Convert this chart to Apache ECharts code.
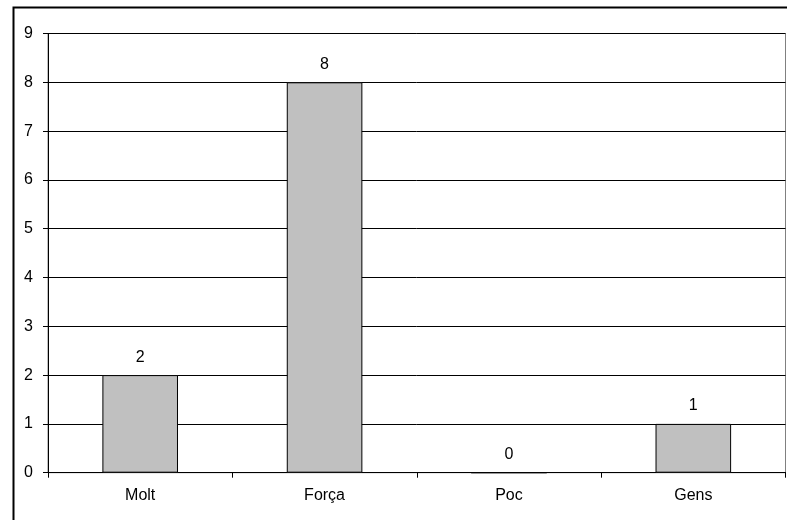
<!DOCTYPE html>
<html><head><meta charset="utf-8">
<script src="https://cdn.jsdelivr.net/npm/echarts@6/dist/echarts.min.js"></script>
<style>html,body{margin:0;padding:0;background:#fff}#c{width:787px;height:520px}</style>
</head><body><div id="c"></div>
<script>
const categories = ['Molt', 'Força', 'Poc', 'Gens'];
const values = [2, 8, 0, 1];
const yTicks = [0, 1, 2, 3, 4, 5, 6, 7, 8, 9];

const chart = echarts.init(document.getElementById('c'), null, {renderer: 'canvas'});
const font = 'Liberation Sans, Arial, sans-serif';
chart.setOption({
  animation: false,
  backgroundColor: '#fff',
  graphic: [{
    type: 'rect', left: 11, top: 5, z: 100, silent: true,
    shape: {x: 0, y: 0, width: 790, height: 530},
    style: {fill: 'none', stroke: '#000', lineWidth: 2}
  }],
  grid: {left: 48, right: 1.5, top: 33.5, bottom: 47.3, show: true, borderColor: '#808080', borderWidth: 1},
  xAxis: {
    type: 'category', data: categories,
    axisLine: {lineStyle: {color: '#000', width: 1}},
    axisTick: {show: true, length: 5, lineStyle: {color: '#000'}},
    axisLabel: {color: '#000', fontFamily: font, fontSize: 16, margin: 15}
  },
  yAxis: {
    type: 'value', min: yTicks[0], max: yTicks[yTicks.length - 1], interval: 1,
    axisLine: {show: true, lineStyle: {color: '#000', width: 1}},
    axisTick: {show: true, length: 5, lineStyle: {color: '#000'}},
    axisLabel: {color: '#000', fontFamily: font, fontSize: 16, margin: 15},
    splitLine: {show: true, lineStyle: {color: '#000', width: 1}}
  },
  series: [{
    type: 'bar', data: values, barWidth: '41%',
    itemStyle: {color: '#c0c0c0', borderColor: '#000', borderWidth: 1},
    label: {show: true, position: 'top', distance: 10, color: '#000', fontFamily: font, fontSize: 16}
  }]
});
</script></body></html>
